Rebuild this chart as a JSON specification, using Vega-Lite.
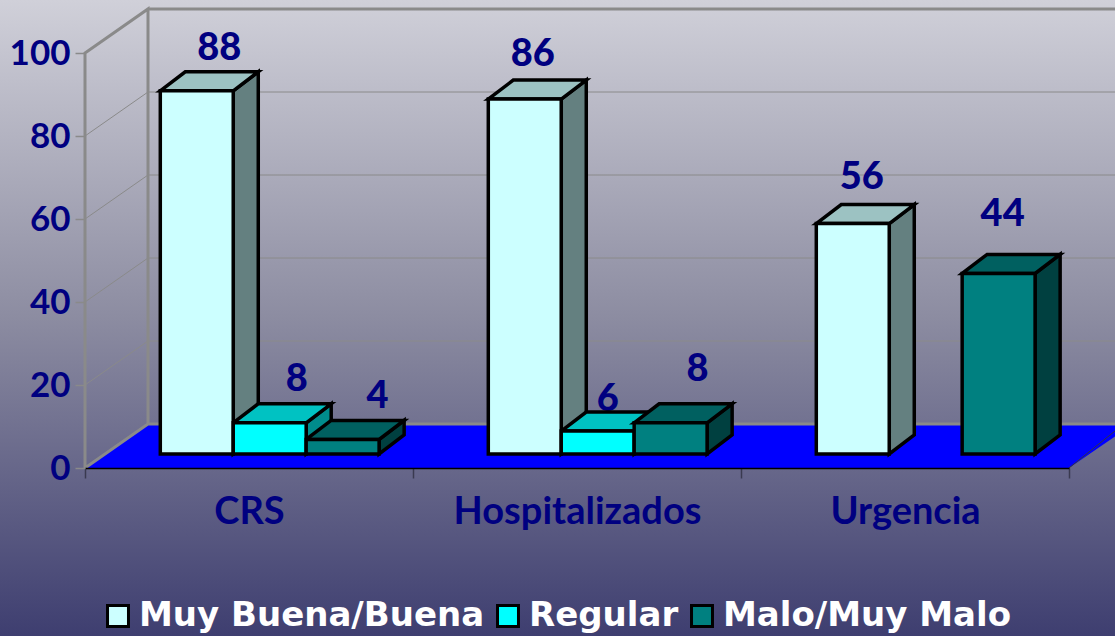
{"$schema":"https://vega.github.io/schema/vega-lite/v6.json","width":984,"height":415,"autosize":{"type":"none"},"padding":{"left":85,"top":53,"right":46,"bottom":168},"config":{"view":{"stroke":null},"axisX":{"labelAngle":0,"labelFont":"Lato","labelFontWeight":"bold","labelFontSize":38,"labelColor":"#000080","labelPadding":15,"labelLimit":400,"tickColor":"#3a3a50","tickSize":10,"tickWidth":1.5,"domainColor":"#000000","domainWidth":1.5,"grid":false},"axisY":{"domain":false,"grid":false,"labelFont":"Lato","labelFontWeight":"bold","labelFontSize":35,"labelColor":"#000080","labelPadding":5,"tickColor":"#8a8a8a","tickSize":10,"tickWidth":1.5}},"datasets":{"bars":[{"category":"CRS","series":"Muy Buena/Buena","value":88},{"category":"CRS","series":"Regular","value":8},{"category":"CRS","series":"Malo/Muy Malo","value":4},{"category":"Hospitalizados","series":"Muy Buena/Buena","value":86},{"category":"Hospitalizados","series":"Regular","value":6},{"category":"Hospitalizados","series":"Malo/Muy Malo","value":8},{"category":"Urgencia","series":"Muy Buena/Buena","value":56},{"category":"Urgencia","series":"Malo/Muy Malo","value":44}],"ticks":[{"tick":20},{"tick":40},{"tick":60},{"tick":80}]},"data":{"name":"bars"},"layer":[{"data":{"values":[{"floor":0}]},"mark":{"type":"point","filled":true,"size":4,"opacity":1,"fill":{"gradient":"linear","x1":0,"y1":0,"x2":0,"y2":1,"stops":[{"offset":0,"color":"#d0d0d9"},{"offset":0.5,"color":"#8c8ca1"},{"offset":1,"color":"#3e3e70"}]},"shape":"M-249,-468 L866,-468 L866,168 L-249,168 Z"},"encoding":{"x":{"datum":"CRS","type":"nominal","title":null,"scale":{"domain":["CRS","Hospitalizados","Urgencia"],"padding":0},"axis":{"zindex":1,"tickBand":"extent","title":null}},"y":{"field":"floor","type":"quantitative","title":null,"scale":{"domain":[0,100],"nice":false},"axis":{"zindex":1,"values":[0,20,40,60,80,100],"title":null}}}},{"data":{"values":[{"floor":0}]},"mark":{"type":"point","filled":true,"size":4,"fill":"#0000ff","opacity":1,"shape":"M-164,0 L-101,-44 L884,-44 L820,0 Z"},"encoding":{"x":{"datum":"CRS","type":"nominal","title":null},"y":{"field":"floor","type":"quantitative","title":null}}},{"data":{"name":"ticks"},"mark":{"type":"point","filled":false,"size":4,"stroke":"#8a8a8a","strokeWidth":1,"opacity":1,"shape":"M-164,0 L-101,-44 L866,-44"},"encoding":{"x":{"datum":"CRS","type":"nominal","title":null},"y":{"field":"tick","type":"quantitative","title":null}}},{"data":{"values":[{"floor":0}]},"mark":{"type":"point","filled":false,"size":4,"stroke":"#8a8a8a","strokeWidth":3,"opacity":1,"shape":"M-164,0 L-101,-44 L-101,-459 L-164,-415 L-164,0 M-101,-459 L866,-459 M-101,-44 L884,-44"},"encoding":{"x":{"datum":"CRS","type":"nominal","title":null},"y":{"field":"floor","type":"quantitative","title":null}}},{"data":{"values":[{"floor":0}]},"mark":{"type":"point","filled":false,"size":4,"stroke":"#333344","strokeWidth":1,"opacity":1,"shape":"M820,0 L866,-37"},"encoding":{"x":{"datum":"CRS","type":"nominal","title":null},"y":{"field":"floor","type":"quantitative","title":null}}},{"mark":{"type":"point","filled":true,"size":4,"stroke":"#000000","strokeWidth":3.5,"opacity":1,"strokeJoin":"miter"},"encoding":{"x":{"field":"category","type":"nominal","title":null},"xOffset":{"field":"series","type":"nominal","scale":{"domain":["Muy Buena/Buena","Regular","Malo/Muy Malo"],"range":[75.3,294.1]}},"y":{"field":"value","type":"quantitative","title":null},"shape":{"field":"value","type":"nominal","legend":null,"scale":{"domain":[88,86,56,44,8,6,4],"range":["M36.5,-12 L61.5,-31 L61.5,332.2 L36.5,351.2 Z","M36.5,-12 L61.5,-31 L61.5,323.9 L36.5,342.9 Z","M36.5,-12 L61.5,-31 L61.5,199.4 L36.5,218.4 Z","M36.5,-12 L61.5,-31 L61.5,149.6 L36.5,168.6 Z","M36.5,-12 L61.5,-31 L61.5,0.2 L36.5,19.2 Z","M36.5,-12 L61.5,-31 L61.5,-8.1 L36.5,10.9 Z","M36.5,-12 L61.5,-31 L61.5,-16.4 L36.5,2.6 Z"]}},"fill":{"field":"series","type":"nominal","legend":null,"scale":{"domain":["Muy Buena/Buena","Regular","Malo/Muy Malo"],"range":["#648080","#008c8c","#004040"]}}}},{"transform":[{"filter":"datum.value === 6"}],"mark":{"type":"text","font":"Lato","fontWeight":900,"fontSize":38,"fill":"#000080","dx":10,"dy":-43},"encoding":{"x":{"field":"category","type":"nominal","title":null},"xOffset":{"field":"series","type":"nominal"},"y":{"field":"value","type":"quantitative","title":null},"text":{"field":"value","type":"quantitative"}}},{"mark":{"type":"point","filled":true,"size":4,"stroke":"#000000","strokeWidth":3.5,"opacity":1,"strokeJoin":"miter","shape":"M-36.5,-12 L-11.5,-31 L61.5,-31 L36.5,-12 Z"},"encoding":{"x":{"field":"category","type":"nominal","title":null},"xOffset":{"field":"series","type":"nominal"},"y":{"field":"value","type":"quantitative","title":null},"fill":{"field":"series","type":"nominal","legend":null,"scale":{"domain":["Muy Buena/Buena","Regular","Malo/Muy Malo"],"range":["#9cc2c2","#00c2c2","#006060"]}}}},{"mark":{"type":"bar","stroke":"#000000","strokeWidth":3.5,"yOffset":-12,"y2Offset":-12},"encoding":{"x":{"field":"category","type":"nominal","title":null},"xOffset":{"field":"series","type":"nominal"},"y":{"field":"value","type":"quantitative","title":null},"y2":{"datum":0.5},"color":{"field":"series","type":"nominal","title":null,"scale":{"domain":["Muy Buena/Buena","Regular","Malo/Muy Malo"],"range":["#ccffff","#00ffff","#008080"]},"legend":{"orient":"none","legendX":16,"legendY":546,"direction":"horizontal","columns":3,"symbolType":"square","symbolSize":440,"symbolStrokeColor":"#000000","symbolStrokeWidth":3,"symbolOpacity":1,"labelFont":"DejaVu Sans","labelFontWeight":"bold","labelFontSize":34,"labelColor":"#ffffff","labelLimit":500,"columnPadding":6,"labelOffset":4}}}},{"transform":[{"filter":"datum.value === 88"}],"mark":{"type":"text","font":"Lato","fontWeight":900,"fontSize":38,"fill":"#000080","dx":22.5,"dy":-53.5},"encoding":{"x":{"field":"category","type":"nominal","title":null},"xOffset":{"field":"series","type":"nominal"},"y":{"field":"value","type":"quantitative","title":null},"text":{"field":"value","type":"quantitative"}}},{"transform":[{"filter":"datum.value === 8 && datum.category === 'CRS'"}],"mark":{"type":"text","font":"Lato","fontWeight":900,"fontSize":38,"fill":"#000080","dx":27,"dy":-54.5},"encoding":{"x":{"field":"category","type":"nominal","title":null},"xOffset":{"field":"series","type":"nominal"},"y":{"field":"value","type":"quantitative","title":null},"text":{"field":"value","type":"quantitative"}}},{"transform":[{"filter":"datum.value === 4"}],"mark":{"type":"text","font":"Lato","fontWeight":900,"fontSize":38,"fill":"#000080","dx":35,"dy":-54.5},"encoding":{"x":{"field":"category","type":"nominal","title":null},"xOffset":{"field":"series","type":"nominal"},"y":{"field":"value","type":"quantitative","title":null},"text":{"field":"value","type":"quantitative"}}},{"transform":[{"filter":"datum.value === 86"}],"mark":{"type":"text","font":"Lato","fontWeight":900,"fontSize":38,"fill":"#000080","dx":8,"dy":-56.5},"encoding":{"x":{"field":"category","type":"nominal","title":null},"xOffset":{"field":"series","type":"nominal"},"y":{"field":"value","type":"quantitative","title":null},"text":{"field":"value","type":"quantitative"}}},{"transform":[{"filter":"datum.value === 8 && datum.category === 'Hospitalizados'"}],"mark":{"type":"text","font":"Lato","fontWeight":900,"fontSize":38,"fill":"#000080","dx":27,"dy":-64.5},"encoding":{"x":{"field":"category","type":"nominal","title":null},"xOffset":{"field":"series","type":"nominal"},"y":{"field":"value","type":"quantitative","title":null},"text":{"field":"value","type":"quantitative"}}},{"transform":[{"filter":"datum.value === 56"}],"mark":{"type":"text","font":"Lato","fontWeight":900,"fontSize":38,"fill":"#000080","dx":9,"dy":-57.5},"encoding":{"x":{"field":"category","type":"nominal","title":null},"xOffset":{"field":"series","type":"nominal"},"y":{"field":"value","type":"quantitative","title":null},"text":{"field":"value","type":"quantitative"}}},{"transform":[{"filter":"datum.value === 44"}],"mark":{"type":"text","font":"Lato","fontWeight":900,"fontSize":38,"fill":"#000080","dx":4,"dy":-70.5},"encoding":{"x":{"field":"category","type":"nominal","title":null},"xOffset":{"field":"series","type":"nominal"},"y":{"field":"value","type":"quantitative","title":null},"text":{"field":"value","type":"quantitative"}}}],"resolve":{"scale":{"fill":"independent"}}}
